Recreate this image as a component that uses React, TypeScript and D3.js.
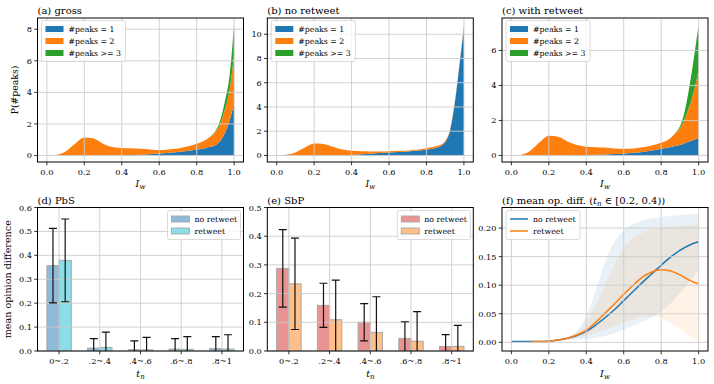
import React from 'react';
import * as d3 from 'd3';

const FONT = '"DejaVu Serif", serif';
const BLUE = '#1f77b4';
const ORANGE = '#ff7f0e';
const GREEN = '#2ca02c';
const GRID = '#cccccc';

// ---- top row: P(#peaks) vs I_w, stacked ----
const iw = [0, 0.025, 0.05, 0.1, 0.15, 0.2, 0.25, 0.3, 0.35, 0.4, 0.45, 0.5, 0.55, 0.6, 0.65, 0.7, 0.75, 0.8, 0.85, 0.875, 0.9, 0.925, 0.95, 0.975, 1.0];

const grossOne = [0, 0, 0, 0, 0, 0, 0, 0, 0.005, 0.02, 0.035, 0.05, 0.08, 0.12, 0.17, 0.22, 0.29, 0.37, 0.48, 0.55, 0.65, 0.9, 1.4, 2.2, 3.3];
const grossTwo = [0, 0, 0.03, 0.25, 0.75, 1.14, 1.08, 0.75, 0.525, 0.45, 0.415, 0.38, 0.3, 0.22, 0.21, 0.22, 0.27, 0.37, 0.52, 0.65, 0.85, 1.1, 1.5, 1.9, 3.1];
const grossThree = [0, 0, 0, 0, 0, 0, 0, 0, 0, 0, 0, 0, 0, 0, 0, 0, 0, 0, 0, 0.01, 0.05, 0.2, 0.5, 0.9, 1.9];

const noRtOne = [0, 0, 0, 0, 0, 0, 0, 0, 0.01, 0.05, 0.1, 0.15, 0.2, 0.25, 0.28, 0.32, 0.4, 0.5, 0.62, 0.75, 1.1, 2.0, 4.2, 7.3, 10.6];
const noRtTwo = [0, 0.01, 0.05, 0.25, 0.65, 0.98, 0.95, 0.72, 0.49, 0.33, 0.24, 0.18, 0.13, 0.1, 0.1, 0.08, 0.08, 0.1, 0.13, 0.13, 0.1, 0.1, 0.1, 0.1, 0.2];
const noRtThree = [0, 0, 0, 0, 0, 0, 0, 0, 0, 0, 0, 0, 0, 0, 0, 0, 0, 0, 0, 0, 0, 0, 0, 0, 0];

const rtOne = [0, 0, 0, 0, 0, 0, 0, 0.01, 0.02, 0.03, 0.045, 0.06, 0.08, 0.1, 0.15, 0.2, 0.28, 0.38, 0.48, 0.54, 0.6, 0.7, 0.8, 0.9, 1.0];
const rtTwo = [0, 0, 0.03, 0.25, 0.75, 1.13, 1.07, 0.79, 0.58, 0.47, 0.425, 0.39, 0.32, 0.28, 0.25, 0.27, 0.29, 0.34, 0.52, 0.71, 0.95, 1.4, 2.0, 2.8, 3.88];
const rtThree = [0, 0, 0, 0, 0, 0, 0, 0, 0, 0, 0, 0, 0, 0, 0, 0, 0, 0, 0, 0.02, 0.1, 0.4, 1.1, 1.9, 2.6];

const peakLabels = ['#peaks = 1', '#peaks = 2', '#peaks >= 3'];
const unitTicks = [0, 0.2, 0.4, 0.6, 0.8, 1.0];

// ---- bottom row bars ----
const tnCats = ['0~.2', '.2~.4', '.4~.6', '.6~.8', '.8~1'];
const pbsNoRt = [0.357, 0.012, 0.006, 0.008, 0.010];
const pbsNoRtErr = [0.156, 0.040, 0.036, 0.044, 0.050];
const pbsRt = [0.379, 0.015, 0.005, 0.007, 0.008];
const pbsRtErr = [0.173, 0.064, 0.052, 0.053, 0.060];
const sbpNoRt = [0.288, 0.159, 0.100, 0.044, 0.016];
const sbpNoRtErr = [0.135, 0.077, 0.065, 0.058, 0.041];
const sbpRt = [0.234, 0.109, 0.065, 0.034, 0.016];
const sbpRtErr = [0.159, 0.138, 0.124, 0.103, 0.073];

// ---- panel f ----
const fx = [0, 0.05, 0.1, 0.15, 0.2, 0.25, 0.3, 0.35, 0.4, 0.45, 0.5, 0.55, 0.6, 0.65, 0.7, 0.75, 0.8, 0.85, 0.9, 0.95, 1.0];
const fNoRt = [0.0015, 0.0015, 0.0015, 0.0015, 0.002, 0.004, 0.007, 0.012, 0.019, 0.03, 0.043, 0.057, 0.073, 0.089, 0.105, 0.12, 0.135, 0.149, 0.161, 0.17, 0.176];
const fNoRtHi = [0.0015, 0.0015, 0.0015, 0.0015, 0.003, 0.005, 0.009, 0.02, 0.045, 0.09, 0.14, 0.175, 0.196, 0.207, 0.213, 0.217, 0.219, 0.221, 0.223, 0.224, 0.225];
const fNoRtLo = [0.0015, 0.0015, 0.0015, 0.0015, 0.001, 0.002, 0.004, 0.005, 0.006, 0.008, 0.011, 0.016, 0.022, 0.029, 0.036, 0.044, 0.054, 0.068, 0.086, 0.106, 0.126];
const fxRt = [0.11, 0.15, 0.2, 0.25, 0.3, 0.35, 0.4, 0.45, 0.5, 0.55, 0.6, 0.65, 0.7, 0.75, 0.8, 0.85, 0.9, 0.95, 1.0];
const fRt = [0.0015, 0.0015, 0.002, 0.004, 0.007, 0.013, 0.021, 0.035, 0.051, 0.067, 0.084, 0.1, 0.114, 0.123, 0.127, 0.125, 0.118, 0.109, 0.102];
const fRtHi = [0.0015, 0.0015, 0.003, 0.005, 0.009, 0.018, 0.035, 0.065, 0.1, 0.135, 0.165, 0.182, 0.192, 0.198, 0.201, 0.203, 0.204, 0.205, 0.206];
const fRtLo = [0.0015, 0.0015, 0.001, 0.002, 0.005, 0.008, 0.012, 0.017, 0.022, 0.028, 0.034, 0.04, 0.045, 0.046, 0.042, 0.034, 0.024, 0.012, 0.0];

const W = 206;
const TOP_Y = 18, TOP_H = 144;
const BOT_Y = 207.5, BOT_H = 143.5;
const COLS = [37.5, 267.3, 502];
const TICK_FS = 8.2;
const LEG_FS = 7.8;

function Iw({ x, y }) {
  return (
    <text x={x} y={y} textAnchor="middle" fontFamily={FONT} fontSize={9.5}>
      <tspan fontStyle="italic">I</tspan>
      <tspan fontStyle="italic" fontSize={7} dy={2}>w</tspan>
    </text>
  );
}

function Tn({ x, y }) {
  return (
    <text x={x} y={y} textAnchor="middle" fontFamily={FONT} fontSize={9.5}>
      <tspan fontStyle="italic">t</tspan>
      <tspan fontStyle="italic" fontSize={7} dy={2}>n</tspan>
    </text>
  );
}

function Frame({ x, y, xticks, yticks, xfmt, yfmt }) {
  const [x0, x1] = x.range();
  const [y0, y1] = y.range();
  return (
    <g>
      {xticks.map((t, i) => (
        <line key={'gx' + i} x1={x(t)} x2={x(t)} y1={y1} y2={y0} stroke={GRID} strokeWidth={0.9} />
      ))}
      {yticks.map((t, i) => (
        <line key={'gy' + i} x1={x0} x2={x1} y1={y(t)} y2={y(t)} stroke={GRID} strokeWidth={0.9} />
      ))}
      <rect x={x0} y={y1} width={x1 - x0} height={y0 - y1} fill="none" stroke="#000" strokeWidth={1} />
      {xticks.map((t, i) => (
        <g key={'tx' + i}>
          <line x1={x(t)} x2={x(t)} y1={y0} y2={y0 + 3.3} stroke="#000" strokeWidth={0.8} />
          <text x={x(t)} y={y0 + 13} textAnchor="middle" fontFamily={FONT} fontSize={TICK_FS}>{xfmt(t, i)}</text>
        </g>
      ))}
      {yticks.map((t, i) => (
        <g key={'ty' + i}>
          <line x1={x0 - 3.3} x2={x0} y1={y(t)} y2={y(t)} stroke="#000" strokeWidth={0.8} />
          <text x={x0 - 5.5} y={y(t) + 3} textAnchor="end" fontFamily={FONT} fontSize={TICK_FS}>{yfmt(t)}</text>
        </g>
      ))}
    </g>
  );
}

function Legend({ x, y, w, items, kind }) {
  const rowH = 12;
  const h = items.length * rowH + 5;
  return (
    <g>
      <rect x={x} y={y} width={w} height={h} rx={2} fill="#fff" fillOpacity={0.8} stroke="#d0d0d0" strokeWidth={0.8} />
      {items.map((it, i) => {
        const cy = y + 8.5 + i * rowH;
        return (
          <g key={i}>
            {kind === 'line' ? (
              <line x1={x + 4} x2={x + 22} y1={cy} y2={cy} stroke={it.color} strokeWidth={1.5} />
            ) : (
              <rect x={x + 4} y={cy - 3} width={18} height={6} fill={it.color} stroke={it.edge || 'none'} strokeWidth={0.9} />
            )}
            <text x={x + 27} y={cy + 3} fontFamily={FONT} fontSize={LEG_FS}>{it.label}</text>
          </g>
        );
      })}
    </g>
  );
}

function StackPanel({ col, title, one, two, three, yticks, ylabel }) {
  const left = COLS[col];
  const rows = iw.map((v, i) => ({ x: v, a: one[i], b: two[i], c: three[i] }));
  const series = d3.stack().keys(['a', 'b', 'c'])(rows);
  const maxV = d3.max(rows, (r) => r.a + r.b + r.c);
  const x = d3.scaleLinear().domain([-0.05, 1.05]).range([left, left + W]);
  const y = d3.scaleLinear().domain([-0.05 * maxV, 1.05 * maxV]).range([TOP_Y + TOP_H, TOP_Y]);
  const area = d3.area()
    .x((d) => x(d.data.x))
    .y0((d) => y(d[0]))
    .y1((d) => y(d[1]))
    .curve(d3.curveMonotoneX);
  const colors = [BLUE, ORANGE, GREEN];
  return (
    <g>
      {series.map((s, i) => (
        <path key={i} d={area(s)} fill={colors[i]} />
      ))}
      <Frame x={x} y={y} xticks={unitTicks} yticks={yticks}
        xfmt={(t) => t.toFixed(1)} yfmt={(t) => String(t)} />
      <Legend x={left + 4} y={TOP_Y + 2.5} w={84} kind="rect"
        items={peakLabels.map((l, i) => ({ label: l, color: colors[i] }))} />
      <text x={left} y={TOP_Y - 4} fontFamily={FONT} fontSize={10}>{title}</text>
      <Iw x={left + W / 2} y={187} />
      {ylabel && (
        <text transform={`translate(${left - 20},${TOP_Y + TOP_H / 2}) rotate(-90)`} textAnchor="middle"
          fontFamily={FONT} fontSize={9.3}>{ylabel}</text>
      )}
    </g>
  );
}

function BarPanel({ col, title, a, aErr, b, bErr, ca, cb, ymax, yticks, ylabel, clipId }) {
  const left = COLS[col];
  const bw = 0.3;
  const x = d3.scaleLinear().domain([-bw - 0.23, tnCats.length - 1 + bw + 0.23]).range([left, left + W]);
  const y = d3.scaleLinear().domain([0, ymax]).range([BOT_Y + BOT_H, BOT_Y]);
  const groups = [
    { vals: a, errs: aErr, color: ca, off: -bw },
    { vals: b, errs: bErr, color: cb, off: 0 },
  ];
  const cap = 4;
  return (
    <g>
      <defs>
        <clipPath id={clipId}>
          <rect x={left} y={BOT_Y} width={W} height={BOT_H} />
        </clipPath>
      </defs>
      <g clipPath={`url(#${clipId})`}>
        {groups.map((g, gi) =>
          g.vals.map((v, i) => (
            <rect key={gi + '-' + i} x={x(i + g.off)} y={y(v)} width={x(bw) - x(0)} height={y(0) - y(v)}
              fill={g.color} stroke="#a8a8a8" strokeWidth={1} />
          ))
        )}
      </g>
      <Frame x={x} y={y} xticks={d3.range(tnCats.length)} yticks={yticks}
        xfmt={(t, i) => tnCats[i]} yfmt={(t) => t.toFixed(1)} />
      <g clipPath={`url(#${clipId})`}>
        {groups.map((g, gi) =>
          g.vals.map((v, i) => {
            const cx = x(i + g.off + bw / 2);
            const hi = y(v + g.errs[i]);
            const lo = y(v - g.errs[i]);
            return (
              <g key={gi + '-' + i} stroke="#111" strokeWidth={1.2}>
                <line x1={cx} x2={cx} y1={hi} y2={lo} />
                <line x1={cx - cap} x2={cx + cap} y1={hi} y2={hi} />
                <line x1={cx - cap} x2={cx + cap} y1={lo} y2={lo} />
              </g>
            );
          })
        )}
      </g>
      <Legend x={left + W - 76} y={BOT_Y + 3} w={73} kind="rect"
        items={[{ label: 'no retweet', color: ca, edge: '#a8a8a8' }, { label: 'retweet', color: cb, edge: '#a8a8a8' }]} />
      <text x={left} y={BOT_Y - 4} fontFamily={FONT} fontSize={10}>{title}</text>
      <Tn x={left + W / 2} y={377} />
      {ylabel && (
        <text transform={`translate(${left - 27},${BOT_Y + BOT_H / 2}) rotate(-90)`} textAnchor="middle"
          fontFamily={FONT} fontSize={9.6}>{ylabel}</text>
      )}
    </g>
  );
}

function DiffPanel() {
  const left = COLS[2];
  const x = d3.scaleLinear().domain([-0.05, 1.05]).range([left, left + W]);
  const y = d3.scaleLinear().domain([-0.0152, 0.236]).range([BOT_Y + BOT_H, BOT_Y]);
  const band = d3.area().x((d) => x(d[0])).y0((d) => y(d[1])).y1((d) => y(d[2])).curve(d3.curveMonotoneX);
  const line = d3.line().x((d) => x(d[0])).y((d) => y(d[1])).curve(d3.curveMonotoneX);
  const noBand = fx.map((v, i) => [v, fNoRtLo[i], fNoRtHi[i]]);
  const rtBand = fxRt.map((v, i) => [v, fRtLo[i], fRtHi[i]]);
  return (
    <g>
      <path d={band(noBand)} fill={BLUE} fillOpacity={0.1} />
      <path d={band(rtBand)} fill={ORANGE} fillOpacity={0.1} />
      <path d={line(fx.map((v, i) => [v, fNoRt[i]]))} fill="none" stroke={BLUE} strokeWidth={1.5} />
      <path d={line(fxRt.map((v, i) => [v, fRt[i]]))} fill="none" stroke={ORANGE} strokeWidth={1.5} />
      <Frame x={x} y={y} xticks={unitTicks} yticks={[0, 0.05, 0.1, 0.15, 0.2]}
        xfmt={(t) => t.toFixed(1)} yfmt={(t) => t.toFixed(2)} />
      <Legend x={left + 4} y={BOT_Y + 3} w={74} kind="line"
        items={[{ label: 'no retweet', color: BLUE }, { label: 'retweet', color: ORANGE }]} />
      <text x={left} y={BOT_Y - 4} fontFamily={FONT} fontSize={10}>
        (f) mean op. diff. (
        <tspan fontStyle="italic">t</tspan>
        <tspan fontStyle="italic" fontSize={7} dy={2}>n</tspan>
        <tspan dy={-2}> ∈ [0.2, 0.4))</tspan>
      </text>
      <Iw x={left + W / 2} y={377} />
    </g>
  );
}

export default function App() {
  return (
    <svg width={714} height={384} style={{ position: 'absolute', left: 0, top: 0, background: '#fff' }}>
      <rect width={714} height={384} fill="#fff" />
      <StackPanel col={0} title="(a) gross" one={grossOne} two={grossTwo} three={grossThree}
        yticks={[0, 2, 4, 6, 8]} ylabel="P(#peaks)" />
      <StackPanel col={1} title="(b) no retweet" one={noRtOne} two={noRtTwo} three={noRtThree}
        yticks={[0, 2, 4, 6, 8, 10]} />
      <StackPanel col={2} title="(c) with retweet" one={rtOne} two={rtTwo} three={rtThree}
        yticks={[0, 2, 4, 6]} />
      <BarPanel col={0} title="(d) PbS" a={pbsNoRt} aErr={pbsNoRtErr} b={pbsRt} bErr={pbsRtErr}
        ca="#8fbbd9" cb="#8bdee7" ymax={0.6} yticks={[0, 0.1, 0.2, 0.3, 0.4, 0.5, 0.6]}
        ylabel="mean opinion difference" clipId="clipD" />
      <BarPanel col={1} title="(e) SbP" a={sbpNoRt} aErr={sbpNoRtErr} b={sbpRt} bErr={sbpRtErr}
        ca="#ea9393" cb="#ffbf86" ymax={0.5} yticks={[0, 0.1, 0.2, 0.3, 0.4, 0.5]} clipId="clipE" />
      <DiffPanel />
    </svg>
  );
}
